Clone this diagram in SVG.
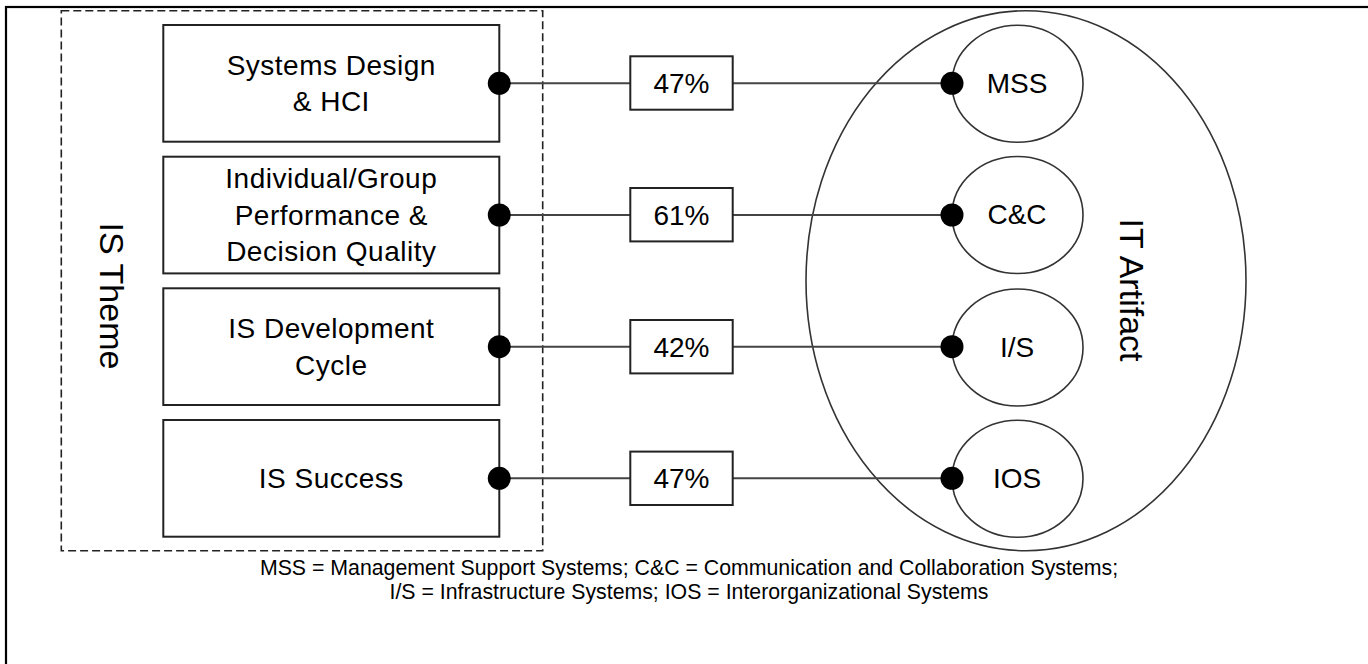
<svg xmlns="http://www.w3.org/2000/svg" width="1368" height="664" viewBox="0 0 1368 664">
<style>
.t{font-family:"Liberation Sans",Arial,sans-serif;fill:#000;}
.box{fill:#fff;stroke:#222;stroke-width:2;}
.pct{fill:#fff;stroke:#222;stroke-width:2;}
.ell{fill:none;stroke:#333;stroke-width:1.6;}
.sm{fill:#fff;stroke:#333;stroke-width:1.6;}
.ln{stroke:#444;stroke-width:2;fill:none;}
.dot{fill:#000;}
.bt{font-size:28px;letter-spacing:0.5px;text-anchor:middle;}
.nt{font-size:28px;text-anchor:middle;}
</style>
<rect x="0" y="0" width="1368" height="664" fill="#fff"/>
<rect x="6" y="7" width="1400" height="700" fill="none" stroke="#000" stroke-width="2.2"/>

<g id="it-artifact">
<ellipse class="ell" cx="1026" cy="280.7" rx="220" ry="270"/>
<text class="t" font-size="34" text-anchor="middle" transform="translate(1120,290) rotate(90)">IT Artifact</text>
</g>

<g id="is-theme">
<rect x="61.3" y="10.7" width="481.4" height="540" fill="none" stroke="#222" stroke-width="1.6" stroke-dasharray="8,4"/>
<text class="t" font-size="34" text-anchor="middle" transform="translate(100,296) rotate(90)">IS Theme</text>
</g>

<g id="connectors">
<line class="ln" x1="499.3" y1="83.3" x2="952" y2="83.3"/>
<line class="ln" x1="499.3" y1="215" x2="952" y2="215"/>
<line class="ln" x1="499.3" y1="346.7" x2="952" y2="346.7"/>
<line class="ln" x1="499.3" y1="478.3" x2="952" y2="478.3"/>
</g>

<g id="box-sd">
<rect class="box" x="163.3" y="25" width="336" height="116.7"/>
<text class="t bt" x="331.3" y="74.5">Systems Design</text>
<text class="t bt" x="331.3" y="111.2">&amp; HCI</text>
</g>
<g id="box-ig">
<rect class="box" x="163.3" y="156.7" width="336" height="116.7"/>
<text class="t bt" x="331.3" y="187.8">Individual/Group</text>
<text class="t bt" x="331.3" y="224.5">Performance &amp;</text>
<text class="t bt" x="331.3" y="261.2">Decision Quality</text>
</g>
<g id="box-dev">
<rect class="box" x="163.3" y="288.3" width="336" height="116.7"/>
<text class="t bt" x="331.3" y="337.9">IS Development</text>
<text class="t bt" x="331.3" y="374.6">Cycle</text>
</g>
<g id="box-succ">
<rect class="box" x="163.3" y="420" width="336" height="116.7"/>
<text class="t bt" x="331.3" y="487.5">IS Success</text>
</g>

<g id="pct-1"><rect class="pct" x="630.3" y="56.3" width="102.4" height="53.4"/><text class="t nt" x="681.5" y="93.3">47%</text></g>
<g id="pct-2"><rect class="pct" x="630.3" y="188" width="102.4" height="53.4"/><text class="t nt" x="681.5" y="225">61%</text></g>
<g id="pct-3"><rect class="pct" x="630.3" y="320" width="102.4" height="53.4"/><text class="t nt" x="681.5" y="356.7">42%</text></g>
<g id="pct-4"><rect class="pct" x="630.3" y="451.6" width="102.4" height="53.4"/><text class="t nt" x="681.5" y="488.3">47%</text></g>

<g id="mss"><ellipse class="sm" cx="1017.5" cy="83.8" rx="65.5" ry="58.5"/><text class="t nt" x="1017" y="92.5">MSS</text></g>
<g id="cc"><ellipse class="sm" cx="1017.5" cy="215" rx="65.5" ry="58.5"/><text class="t nt" x="1017" y="224">C&amp;C</text></g>
<g id="is"><ellipse class="sm" cx="1017.5" cy="347.5" rx="65.5" ry="58.5"/><text class="t nt" x="1017" y="356.5">I/S</text></g>
<g id="ios"><ellipse class="sm" cx="1017.5" cy="478.8" rx="65.5" ry="58.5"/><text class="t nt" x="1017" y="488">IOS</text></g>

<g id="dots">
<circle class="dot" cx="499.3" cy="83.3" r="11.5"/>
<circle class="dot" cx="499.3" cy="215" r="11.5"/>
<circle class="dot" cx="499.3" cy="346.7" r="11.5"/>
<circle class="dot" cx="499.3" cy="478.3" r="11.5"/>
<circle class="dot" cx="952" cy="83.3" r="11.5"/>
<circle class="dot" cx="952" cy="215" r="11.5"/>
<circle class="dot" cx="952" cy="346.7" r="11.5"/>
<circle class="dot" cx="952" cy="478.3" r="11.5"/>
</g>

<g id="caption">
<text class="t" font-size="21.3" text-anchor="middle" x="689" y="575">MSS = Management Support Systems; C&amp;C = Communication and Collaboration Systems;</text>
<text class="t" font-size="21.3" text-anchor="middle" x="689" y="599">I/S = Infrastructure Systems; IOS = Interorganizational Systems</text>
</g>
</svg>
